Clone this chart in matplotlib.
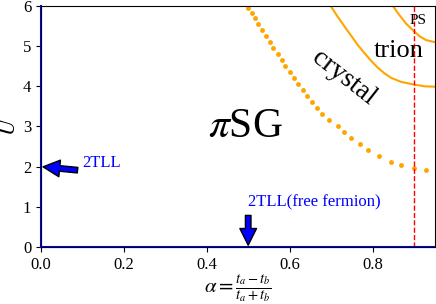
import matplotlib
matplotlib.use("Agg")
import matplotlib.pyplot as plt

plt.rcParams['font.family'] = 'serif'
plt.rcParams['font.serif'] = ['Liberation Serif', 'DejaVu Serif']
plt.rcParams['mathtext.fontset'] = 'stix'

# frontiere pointillee piSG / crystal
dot_alpha = [0.500, 0.508, 0.516, 0.524, 0.533, 0.542, 0.552, 0.561, 0.571, 0.581,
             0.590, 0.600, 0.610, 0.621, 0.632, 0.643, 0.655, 0.667, 0.679, 0.694,
             0.716, 0.731, 0.749, 0.769, 0.790, 0.815, 0.845, 0.869, 0.899, 0.929]
dot_U = [5.96, 5.83, 5.69, 5.54, 5.40, 5.25, 5.09, 4.95, 4.80, 4.65,
         4.50, 4.35, 4.20, 4.05, 3.91, 3.76, 3.61, 3.46, 3.31, 3.16,
         3.01, 2.86, 2.71, 2.56, 2.41, 2.27, 2.12, 2.04, 1.96, 1.92]

# frontiere crystal / trion
outer_alpha = [0.699, 0.716, 0.733, 0.749, 0.765, 0.781, 0.797, 0.813, 0.829, 0.845, 0.869, 0.897, 0.925, 0.950]
outer_U = [6.00, 5.73, 5.48, 5.25, 5.02, 4.82, 4.63, 4.46, 4.32, 4.21, 4.11, 4.05, 4.00, 3.99]

# frontiere trion / PS
inner_alpha = [0.849, 0.865, 0.881, 0.897, 0.913, 0.929, 0.950]
inner_U = [6.00, 5.77, 5.56, 5.40, 5.25, 5.15, 5.10]

alpha_ps = 0.9

fig = plt.figure(figsize=(4.36, 3.04), dpi=100)
ax = fig.add_axes([0.094, 0.1875, 0.903, 0.793])

ax.plot(dot_alpha, dot_U, 'o', color='orange', ms=3.5, mec='none')
ax.plot(outer_alpha, outer_U, '-', color='orange', lw=1.5)
ax.plot(inner_alpha, inner_U, '-', color='orange', lw=1.5)
ax.axvline(alpha_ps, color='red', ls='--', lw=1)

ax.axvline(0, color='blue', lw=1.5, clip_on=False)
ax.axhline(0, color='blue', lw=1.5, clip_on=False)

ax.annotate('2TLL', xy=(0, 2), xytext=(0.1, 2.0), color='blue', fontsize=12,
            arrowprops=dict(facecolor='blue', shrink=0.05))
ax.annotate('2TLL(free fermion)', xy=(0.5, 0), xytext=(0.5, 1.0), color='blue', fontsize=12,
            arrowprops=dict(facecolor='blue', shrink=0.05))

ax.text(0.494, 3.0, r'$\pi$SG', fontsize=30, ha='center', va='center')
ax.text(0.730, 4.20, 'crystal', fontsize=20, rotation=-38, ha='center', va='center')
ax.text(0.862, 4.88, 'trion', fontsize=19, ha='center', va='center')
ax.text(0.909, 5.63, 'PS', fontsize=11, ha='center', va='center')

ax.set_xlim(0, 0.95)
ax.set_ylim(0, 6)
ax.set_xticks([0.0, 0.2, 0.4, 0.6, 0.8])
ax.set_yticks(range(7))
ax.tick_params(labelsize=12)
ax.set_xlabel(r'$\alpha = \frac{t_a - t_b}{t_a + t_b}$', fontsize=15, labelpad=0)
ax.set_ylabel(r'$U$', fontsize=16, labelpad=2)

fig.savefig('out.png', dpi=100)
